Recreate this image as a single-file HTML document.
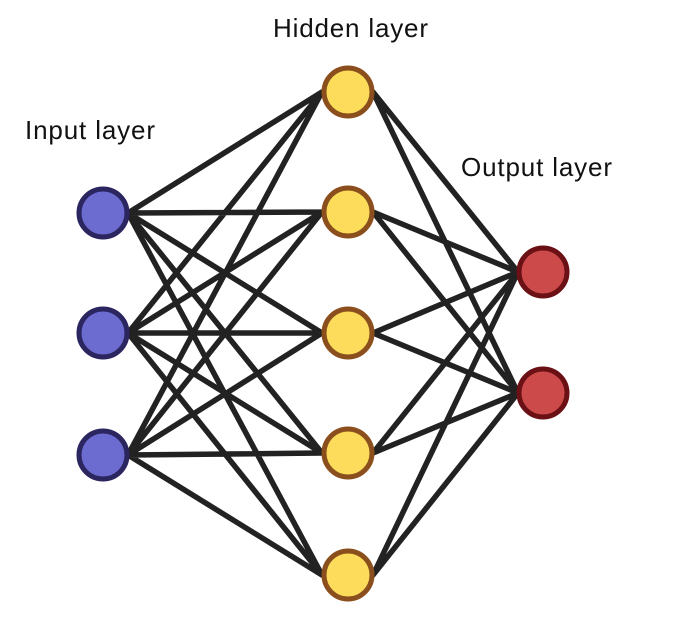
<html><body style="margin:0;background:#fff">
<svg width="673" height="637" xmlns="http://www.w3.org/2000/svg">
<g stroke="#222" stroke-width="5.5" stroke-linecap="round">
<path d="M128 213L322 92M128 213L322 212M128 213L322 333M128 213L322 453M128 213L322 575
M128 333L322 92M128 333L322 212M128 333L322 333M128 333L322 453M128 333L322 575
M128 455L322 92M128 455L322 212M128 455L322 333M128 455L322 453M128 455L322 575
M373 92L518 272M373 92L518 393M373 212L518 272M373 212L518 393M373 333L518 272M373 333L518 393
M373 453L518 272M373 453L518 393M373 575L518 272M373 575L518 393"/>
</g>
<g stroke-width="5">
<g fill="#6b6bd0" stroke="#2b2560">
<circle cx="103" cy="213" r="24"/><circle cx="103" cy="333" r="24"/><circle cx="103" cy="455" r="24"/>
</g>
<g fill="#fcdc5a" stroke="#8a4f1c">
<circle cx="348" cy="92" r="24"/><circle cx="348" cy="212" r="24"/><circle cx="348" cy="333" r="24"/><circle cx="348" cy="453" r="24"/><circle cx="348" cy="575" r="24"/>
</g>
<g fill="#cc4a4a" stroke="#6b1015">
<circle cx="543" cy="272" r="24"/><circle cx="543" cy="393" r="24"/>
</g>
</g>
<g font-family="Liberation Sans, sans-serif" font-size="26" fill="#111">
<text x="25" y="139" textLength="130">Input layer</text>
<text x="273" y="37" textLength="155">Hidden layer</text>
<text x="461" y="176" textLength="151">Output layer</text>
</g>
</svg>
</body></html>
